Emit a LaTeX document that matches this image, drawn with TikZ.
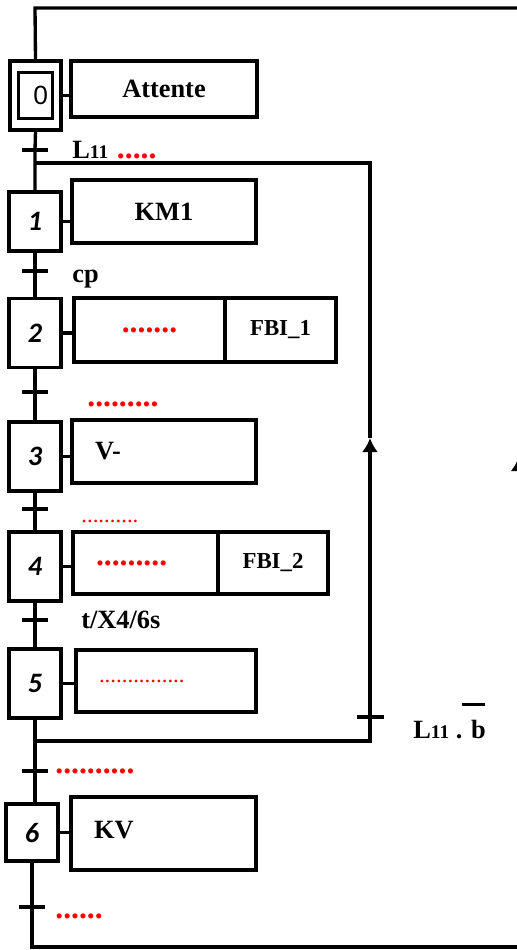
\documentclass[tikz,border=0pt]{standalone}
\usepackage{fontspec}
\setmainfont{Liberation Serif}
\newfontfamily\etapefont{Carlito}
\newfontfamily\zerofont{Liberation Sans}
\usetikzlibrary{arrows.meta}
\tikzset{
  etape/.style={draw, line width=2pt, minimum width=1.03cm, minimum height=1.38cm,
    inner sep=0pt, font=\etapefont\bfseries\itshape\fontsize{16}{16}\selectfont},
  action/.style={draw, line width=2pt, minimum height=1.26cm, inner sep=0pt,
    font=\bfseries\fontsize{15}{15}\selectfont},
  actiong/.style={action, align=left, inner xsep=0.46cm},
  tick/.style={fill, minimum width=0.54cm, minimum height=0.07cm, inner sep=0pt},
  recep/.style={anchor=base west, inner sep=0pt, font=\bfseries\fontsize{15}{15}\selectfont},
  pts/.style={anchor=base west, inner sep=0pt, text=red, font=\bfseries\fontsize{18}{18}\selectfont},
  ptsfins/.style={anchor=base west, inner sep=0pt, text=red, font=\fontsize{13}{13}\selectfont},
  lien/.style={line width=1.9pt}
}
\begin{document}
\begin{tikzpicture}[x=0.02cm, y=-0.02cm, >={Latex[length=0.28cm,width=0.32cm]}]
    \useasboundingbox (0,0) rectangle (517,950);
    % Etapes
    \node[etape] (s0) at (35.5,95.5) {};
    \node[draw, line width=2pt, minimum width=0.68cm, minimum height=0.92cm, inner sep=0pt,
        font=\zerofont\fontsize{15}{15}\selectfont] (s0i) at (s0) {\hspace*{6pt}0};
    \node[etape, minimum height=1.18cm] (s1) at (35,221.5) {1};
    \node[etape] (s2) at (35,333) {2};
    \node[etape] (s3) at (35,456.5) {3};
    \node[etape] (s4) at (35,566.5) {4};
    \node[etape] (s5) at (35,683.5) {5};
    \node[etape, minimum height=1.14cm] (s6) at (32,832.5) {6};
    % Actions
    \node[action, minimum width=3.72cm, minimum height=1.12cm] (a0) at (164,89) {Attente};
    \node[action, minimum width=3.68cm] (a1) at (164,211.5) {KM1};
    \node[action, minimum width=3.02cm, minimum height=1.28cm] (a2) at (149.5,330)
        {\textcolor{red}{\fontsize{18}{18}\selectfont .......}};
    \node[action, minimum width=2.22cm, minimum height=1.28cm, font=\bfseries\fontsize{13}{13}\selectfont]
        (f1) at (280.5,330) {FBI\_1};
    \node[actiong, text width=2.76cm] (a3) at (164,451.5) {V-};
    \node[actiong, text width=1.98cm, minimum height=1.24cm] (a4) at (145.5,563)
        {\textcolor{red}{\fontsize{18}{18}\selectfont .........}};
    \node[action, minimum width=2.2cm, minimum height=1.24cm, font=\bfseries\fontsize{13}{13}\selectfont]
        (f2) at (273,563) {FBI\_2};
    \node[actiong, text width=2.68cm, minimum height=1.24cm] (a5) at (166,681)
        {\textcolor{red}{\fontsize{13}{13}\mdseries\selectfont ...............}};
    \node[actiong, text width=2.78cm, minimum height=1.46cm] (a6) at (163.5,833.5) {\raisebox{4pt}{KV}};
    \foreach \e in {0,...,6} {
        \draw[lien] (s\e.east) -- (s\e.east -| a\e.west);
    }
    % Transitions
    \node[tick] (t01) at (35,150) {};
    \node[tick] (t12) at (35,271) {};
    \node[tick] (t23) at (35,392) {};
    \node[tick] (t34) at (35,509) {};
    \node[tick] (t45) at (35,620) {};
    \node[tick] (t56) at (35,771) {};
    \node[tick] (t60) at (32,907) {};
    \node[tick] (t51) at (370,717) {};
    % Receptivites
    \node[recep] (r01) at (72,158) {L{\fontsize{11}{11}\selectfont 11}\hspace{5pt}\textcolor{red}{\fontsize{18}{18}\selectfont .....}};
    \node[recep] (r12) at (72,282) {cp};
    \node[pts] (r23) at (87,406) {.........};
    \node[ptsfins] (r34) at (81,522) {..........};
    \node[recep] (r45) at (81,628) {t/X4/6s};
    \node[pts] (r56) at (55,773) {..........};
    \node[pts] (r60) at (55,918) {......};
    \node[recep] (r51) at (413,738) {L{\fontsize{11}{11}\selectfont 11} . \makebox[0pt][l]{\hspace{-5pt}\rule[18pt]{13pt}{1.8pt}}b};
    % Liaisons
    \coordinate (j1) at (35,163);
    \coordinate (j5) at (35,741);
    \coordinate (h1) at (370,163);
    \coordinate (h5) at (370,741);
    \coordinate (fl) at (370,438);
    \coordinate (b0) at (32,947);
    \coordinate (b1) at (518.7,947);
    \coordinate (fr) at (518.7,457);
    \coordinate (c1) at (518.7,8);
    \coordinate (c0) at (35,8);
    \draw[lien] (s0.south) -- (t01) -- (j1) -- (s1.north);
    \draw[lien] (s1.south) -- (t12) -- (s2.north);
    \draw[lien] (s2.south) -- (t23) -- (s3.north);
    \draw[lien] (s3.south) -- (t34) -- (s4.north);
    \draw[lien] (s4.south) -- (t45) -- (s5.north);
    \draw[lien] (s5.south) -- (j5) -- (t56) -- (t56 |- s6.north);
    \draw[lien] (j5) -- (h5) -- (t51);
    \draw[lien, ->] (t51) -- (fl);
    \draw[lien] (fl) -- (h1) -- (j1);
    \draw[lien] (s6.south) -- (t60) -- (b0) -- (b1);
    \draw[lien, ->] (b1) -- (fr);
    \draw[lien] (fr) -- (c1) -- (c0) -- (s0.north);
\end{tikzpicture}
\end{document}
